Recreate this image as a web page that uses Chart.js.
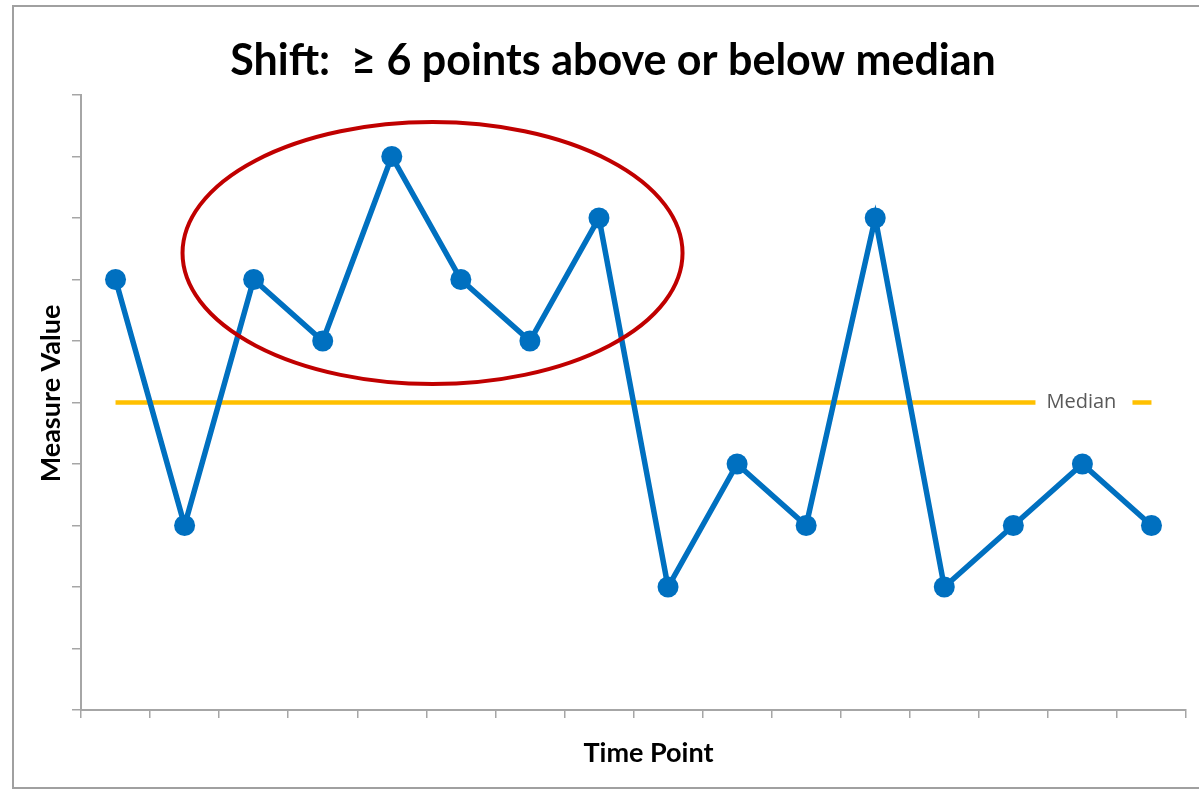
<!DOCTYPE html>
<html>
<head>
<meta charset="utf-8">
<script src="https://cdn.jsdelivr.net/npm/chart.js@4.4.1/dist/chart.umd.min.js"></script>
<style>
  html, body { margin: 0; padding: 0; background: #fff; }
  #wrap { position: relative; width: 1199px; height: 792px; }
  #frame { position: absolute; left: 12px; top: 5px; width: 1200px; height: 784px; border: 2px solid #a0a0a0; box-sizing: border-box; pointer-events: none; }
</style>
</head>
<body>
<div id="wrap">
  <canvas id="lineChart" width="1199" height="792"></canvas>
  <div id="frame"></div>
</div>
<script>
// chart values
const timePoints = ["1","2","3","4","5","6","7","8","9","10","11","12","13","14","15","16"];
const measureValues = [7, 3, 7, 6, 9, 7, 6, 8, 2, 4, 3, 8, 2, 3, 4, 3];
const medianValue = 5;
const yTicks = [0, 1, 2, 3, 4, 5, 6, 7, 8, 9, 10];
// points 3..8 are the shift run
const shiftStart = 2;
const shiftEnd = 7;

const medianData = timePoints.map(function () { return medianValue; });

const axisGray = '#a6a6a6';

// draws title, axis titles, the shift ellipse and the median label
const extras = {
    id: 'extras',
    afterDatasetsDraw: function (chart) {
        const ctx = chart.ctx;
        const area = chart.chartArea;
        const xs = chart.scales.x;
        const ys = chart.scales.y;
        const step = xs.getPixelForValue(1) - xs.getPixelForValue(0);

        // ellipse around the shift run
        const runVals = measureValues.slice(shiftStart, shiftEnd + 1);
        const cx = (xs.getPixelForValue(shiftStart) + xs.getPixelForValue(shiftEnd)) / 2 + 0.09 * step;
        const cy = ys.getPixelForValue((Math.max.apply(null, runVals) + Math.min.apply(null, runVals)) / 2 - 0.07);
        const rx = (xs.getPixelForValue(shiftEnd) - xs.getPixelForValue(shiftStart)) / 2 + 1.12 * step;
        const ry = Math.abs(ys.getPixelForValue(0) - ys.getPixelForValue(2.13));
        ctx.save();
        ctx.strokeStyle = '#c00000';
        ctx.lineWidth = 4;
        ctx.beginPath();
        ctx.ellipse(cx, cy, rx, ry, 0, 0, Math.PI * 2);
        ctx.stroke();

        // median label over the end of the line
        const lastX = xs.getPixelForValue(timePoints.length - 1);
        const my = ys.getPixelForValue(medianValue);
        ctx.fillStyle = '#fff';
        ctx.fillRect(lastX - 116, my - 14, 97, 28);
        ctx.fillStyle = '#595959';
        ctx.font = '20px "Open Sans", sans-serif';
        ctx.textAlign = 'left';
        ctx.textBaseline = 'middle';
        ctx.fillText('Median', lastX - 105, my);

        // titles
        ctx.fillStyle = '#000';
        ctx.textAlign = 'center';
        ctx.textBaseline = 'alphabetic';
        ctx.font = 'bold 43px Lato, "Open Sans", sans-serif';
        ctx.fillText('Shift:  \u2265 6 points above or below median', 613, 75);

        ctx.font = 'bold 27px Lato, "Open Sans", sans-serif';
        ctx.fillText('Time Point', (area.left + area.right) / 2 + 15, 762);

        ctx.translate(60, (area.top + area.bottom) / 2 - 9);
        ctx.rotate(-Math.PI / 2);
        ctx.fillText('Measure Value', 0, 0);
        ctx.restore();
    }
};

var lineData = {
    labels: timePoints,
    datasets: [
        {
            label: 'Median',
            data: medianData,
            borderColor: '#ffc000',
            borderWidth: 4.5,
            pointRadius: 0,
            order: 2
        },
        {
            label: 'Measure Value',
            data: measureValues,
            borderColor: '#0070c0',
            backgroundColor: '#0070c0',
            borderWidth: 5.5,
            pointRadius: 10.5,
            pointBorderWidth: 0,
            tension: 0,
            order: 1
        }
    ]
};

var lineOptions = {
    responsive: false,
    animation: false,
    layout: { padding: { left: 81, top: 95, right: 13, bottom: 82 } },
    plugins: {
        legend: { display: false },
        tooltip: { enabled: false }
    },
    scales: {
        x: {
            type: 'category',
            offset: true,
            grid: { display: true, offset: true, drawOnChartArea: false, drawTicks: true, tickLength: 8, color: axisGray, lineWidth: 1.5 },
            border: { display: true, color: axisGray, width: 2 },
            ticks: { display: false },
            afterFit: function (s) { s.height = 0; }
        },
        y: {
            min: 0,
            max: 10,
            afterBuildTicks: function (s) { s.ticks = yTicks.map(function (v) { return { value: v }; }); },
            grid: { display: true, drawOnChartArea: false, drawTicks: true, tickLength: 9, color: axisGray, lineWidth: 1.5 },
            border: { display: true, color: axisGray, width: 2 },
            ticks: { display: false },
            afterFit: function (s) { s.width = 0; }
        }
    }
};

var ctx2 = document.getElementById('lineChart').getContext('2d');
new Chart(ctx2, { type: 'line', data: lineData, options: lineOptions, plugins: [extras] });
</script>
</body>
</html>
